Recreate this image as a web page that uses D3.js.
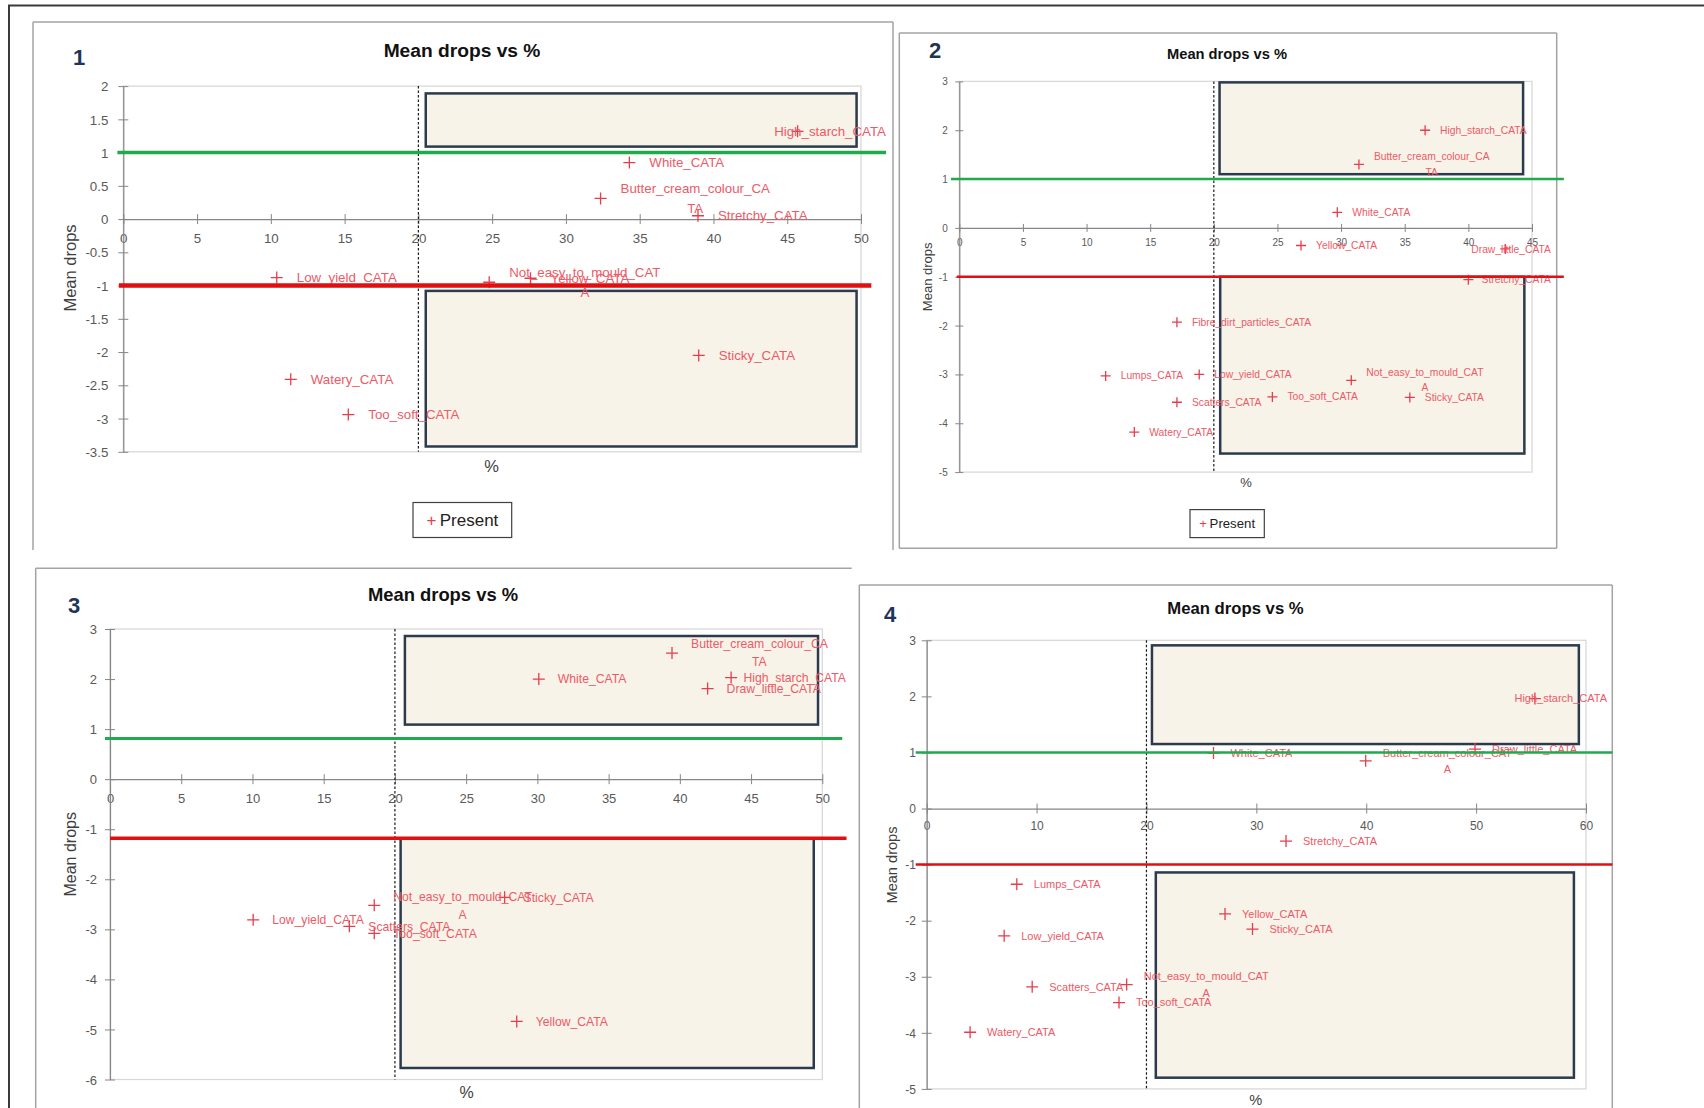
<!DOCTYPE html>
<html>
<head>
<meta charset="utf-8">
<script src="https://cdn.jsdelivr.net/npm/d3@7"></script>
<style>
  body { margin: 0; background: #ffffff; }
  svg { display: block; }
</style>
</head>
<body>
<svg id="chart" width="1704" height="1108"></svg>
<script>
// ---------------- DATA ----------------
// Panel 1
const p1Names = ["Low_yield_CATA","Watery_CATA","Too_soft_CATA","Not_easy_to_mould_CAT\nA","Yellow_CATA","White_CATA","Butter_cream_colour_CA\nTA","Stretchy_CATA","High_starch_CATA","Sticky_CATA"];
const p1Pct   = [10.4, 11.35, 15.25, 24.8, 27.6, 34.3, 32.35, 38.95, 45.7, 39.0];
const p1Mean  = [-0.88, -2.41, -2.94, -0.95, -0.89, 0.85, 0.31, 0.05, 1.32, -2.05];
const p1XTicks = [0,5,10,15,20,25,30,35,40,45,50];
const p1YTicks = [2,1.5,1,0.5,0,-0.5,-1,-1.5,-2,-2.5,-3,-3.5];
const p1Cutoff = 20;
const p1GreenY = 1,  p1GreenSpan = [-0.4, 51.7];
const p1RedY = -1,   p1RedSpan = [-0.3, 50.7];
const p1BoxUpper = [20.5, 49.7, 1.09, 1.89];
const p1BoxLower = [20.5, 49.7, -3.42, -1.08];

// Panel 2
const p2Names = ["Fibre_dirt_particles_CATA","Lumps_CATA","Low_yield_CATA","Scatters_CATA","Watery_CATA","Too_soft_CATA","Not_easy_to_mould_CAT\nA","Sticky_CATA","High_starch_CATA","Butter_cream_colour_CA\nTA","White_CATA","Yellow_CATA","Draw_little_CATA","Stretchy_CATA"];
const p2Pct   = [17.1, 11.5, 18.85, 17.1, 13.75, 24.6, 30.8, 35.4, 36.6, 31.4, 29.7, 26.85, 42.9, 40.0];
const p2Mean  = [-1.93, -3.03, -3.0, -3.57, -4.18, -3.46, -3.12, -3.47, 2.0, 1.30, 0.32, -0.36, -0.43, -1.06];
const p2XTicks = [0,5,10,15,20,25,30,35,40,45];
const p2YTicks = [3,2,1,0,-1,-2,-3,-4,-5];
const p2Cutoff = 20;
const p2GreenY = 1,  p2GreenSpan = [-0.65, 47.5];
const p2RedY = -1,   p2RedSpan = [-0.2, 47.5];
const p2BoxUpper = [20.45, 44.3, 1.10, 2.98];
const p2BoxLower = [20.5, 44.4, -4.62, -1.0];

// Panel 3
const p3Names = ["Low_yield_CATA","Scatters_CATA","Not_easy_to_mould_CAT\nA","Too_soft_CATA","Sticky_CATA","Yellow_CATA","White_CATA","Butter_cream_colour_CA\nTA","High_starch_CATA","Draw_little_CATA"];
const p3Pct   = [10.05, 16.8, 18.55, 18.55, 27.7, 28.55, 30.1, 39.45, 43.6, 41.95];
const p3Mean  = [-2.81, -2.94, -2.52, -3.08, -2.36, -4.84, 2.0, 2.52, 2.03, 1.81];
const p3XTicks = [0,5,10,15,20,25,30,35,40,45,50];
const p3YTicks = [3,2,1,0,-1,-2,-3,-4,-5,-6];
const p3Cutoff = 20;
const p3GreenY = 0.81,  p3GreenSpan = [-0.35, 51.4];
const p3RedY = -1.18,   p3RedSpan = [0, 51.7];
const p3BoxUpper = [20.7, 49.7, 1.09, 2.86];
const p3BoxLower = [20.4, 49.4, -5.77, -1.18];

// Panel 4
const p4Names = ["Lumps_CATA","Low_yield_CATA","Scatters_CATA","Not_easy_to_mould_CAT\nA","Too_soft_CATA","Watery_CATA","Yellow_CATA","Sticky_CATA","Stretchy_CATA","White_CATA","Butter_cream_colour_CAT\nA","Draw_little_CATA","High_starch_CATA"];
const p4Pct   = [8.2, 7.05, 9.6, 18.2, 17.5, 3.95, 27.15, 29.65, 32.7, 26.1, 39.95, 49.9, 55.35];
const p4Mean  = [-1.35, -2.27, -3.18, -3.14, -3.46, -3.99, -1.88, -2.15, -0.58, 0.99, 0.85, 1.06, 1.96];
const p4XTicks = [0,10,20,30,40,50,60];
const p4YTicks = [3,2,1,0,-1,-2,-3,-4,-5];
const p4Cutoff = 20;
const p4GreenY = 1,   p4GreenSpan = [-1.0, 62.4];
const p4RedY = -1,    p4RedSpan = [-1.0, 62.4];
const p4BoxUpper = [20.5, 59.35, 1.15, 2.91];
const p4BoxLower = [20.85, 58.9, -4.80, -1.14];

const chartTitle = "Mean drops vs %";
const yAxisTitle = "Mean drops";
const xAxisTitle = "%";
const legendLabel = "Present";

// ---------------- LAYOUT ----------------
const FONT = "'Liberation Sans', Arial, sans-serif";
const MARK = "#e63d4c", LABEL = "#ec5a67", GREEN = "#1faa4b", RED = "#e10f0f";

const L1 = {frame:{x0:33,y0:22,x1:893,y1:550,sides:"ltr"}, num:{x:79,y:57,t:"1"}, title:{x:462,y:50,fs:19.2},
  plot:{x0:123.3,x1:861,y0:86.1,y1:451.8}, tickFs:13.3, yTickGap:15, xTickGap:19.5, tick:5,
  yTitle:{x:70,y:268,fs:16.5}, xTitle:{x:491.7,y:466,fs:16.5},
  legend:{x:413,y:502.5,w:98.7,h:35,fs:17}, labelFs:13.3, labelDx:20, labelRight:886, mk:6, greenW:3.5, redW:4.5};
const L2 = {frame:{x0:899.3,y0:32.9,x1:1556.7,y1:548.2,sides:"ltrb"}, num:{x:935,y:50,t:"2"}, title:{x:1227,y:53.6,fs:14.7},
  plot:{x0:959.3,x1:1532,y0:81.4,y1:472.1}, tickFs:10, yTickGap:11.6, xTickGap:15, tick:4,
  yTitle:{x:927.7,y:276.8,fs:13}, xTitle:{x:1246,y:482,fs:13},
  legend:{x:1190,y:509.6,w:74.3,h:28,fs:13.2}, labelFs:10.3, labelDx:15, labelRight:1551, mk:5, greenW:2.5, redW:2.5};
const L3 = {frame:{x0:35.7,y0:568.3,x1:851.7,y1:1108,sides:"lt"}, num:{x:74,y:605,t:"3"}, title:{x:443,y:594.5,fs:18.4},
  plot:{x0:110,x1:822.3,y0:629,y1:1079.5}, tickFs:13, yTickGap:13, xTickGap:19, tick:5,
  yTitle:{x:70.7,y:854.3,fs:16}, xTitle:{x:466.5,y:1092,fs:16},
  legend:null, labelFs:12.2, labelDx:19, labelRight:846, mk:6, greenW:3, redW:3.5};
const L4 = {frame:{x0:859.3,y0:585,x1:1612.3,y1:1108,sides:"ltr"}, num:{x:890,y:614,t:"4"}, title:{x:1235.5,y:608.4,fs:16.7},
  plot:{x0:926.7,x1:1586,y0:640.3,y1:1088.9}, tickFs:12, yTickGap:10.7, xTickGap:17, tick:5,
  yTitle:{x:891.7,y:865,fs:14.6}, xTitle:{x:1255.7,y:1100,fs:14.6},
  legend:null, labelFs:11, labelDx:17, labelRight:1607, mk:6, greenW:2.5, redW:2.5};

const svg = d3.select("#chart");

// outer frame
svg.append("path").attr("d","M9,1108 V5.5 H1704").attr("fill","none").attr("stroke","#3a3a3a").attr("stroke-width",2);

function drawPanel(L, D) {
  const g = svg.append("g");
  const f = L.frame, segs = [];
  if (f.sides.includes("t")) segs.push([f.x0,f.y0,f.x1,f.y0]);
  if (f.sides.includes("l")) segs.push([f.x0,f.y0,f.x0,f.y1]);
  if (f.sides.includes("r")) segs.push([f.x1,f.y0,f.x1,f.y1]);
  if (f.sides.includes("b")) segs.push([f.x0,f.y1,f.x1,f.y1]);
  g.selectAll("line.frame").data(segs).join("line").attr("class","frame")
    .attr("x1",s=>s[0]).attr("y1",s=>s[1]).attr("x2",s=>s[2]).attr("y2",s=>s[3])
    .attr("stroke","#a3a3a3").attr("stroke-width",1.5);

  const x = d3.scaleLinear().domain([D.xTicks[0], D.xTicks[D.xTicks.length-1]]).range([L.plot.x0, L.plot.x1]);
  const y = d3.scaleLinear().domain([d3.min(D.yTicks), d3.max(D.yTicks)]).range([L.plot.y1, L.plot.y0]);

  // plot area border
  g.append("rect").attr("x",L.plot.x0).attr("y",L.plot.y0).attr("width",L.plot.x1-L.plot.x0).attr("height",L.plot.y1-L.plot.y0)
    .attr("fill","none").attr("stroke","#d9d9d9").attr("stroke-width",1.3);

  // highlight boxes
  g.selectAll("rect.box").data(D.boxes).join("rect").attr("class","box")
    .attr("x",b=>x(b[0])).attr("y",b=>y(b[3]))
    .attr("width",b=>x(b[1])-x(b[0])).attr("height",b=>y(b[2])-y(b[3]))
    .attr("fill","#f8f3e8").attr("stroke","#2b3a4c").attr("stroke-width",2.5);

  // axes
  const xa = g.append("g").attr("transform",`translate(0,${y(0)})`)
    .call(d3.axisBottom(x).tickValues(D.xTicks).tickFormat(d=>String(d)).tickSizeOuter(0));
  const ya = g.append("g").attr("transform",`translate(${x(0)},0)`)
    .call(d3.axisLeft(y).tickValues(D.yTicks).tickFormat(d=>String(d)).tickSizeOuter(0));
  [xa, ya].forEach(a => {
    a.attr("font-size",null).attr("font-family",null);
    a.select(".domain").attr("stroke","#868686").attr("stroke-width",1.2);
    a.selectAll(".tick line").attr("stroke","#868686").attr("stroke-width",1);
    a.selectAll(".tick text").attr("fill","#595959").style("font-family",FONT).style("font-size",L.tickFs+"px");
  });
  xa.selectAll(".tick line").attr("y1",-L.tick).attr("y2",L.tick);
  xa.selectAll(".tick text").attr("y",L.xTickGap).attr("dy","0.35em");
  ya.selectAll(".tick line").attr("x1",-L.tick).attr("x2",L.tick);
  ya.selectAll(".tick text").attr("x",-L.yTickGap).attr("dy","0.35em");

  // cutoff dotted line
  g.append("line").attr("x1",x(D.cutoff)).attr("x2",x(D.cutoff)).attr("y1",L.plot.y0).attr("y2",L.plot.y1)
    .attr("stroke","#1a1a1a").attr("stroke-width",1.2).attr("stroke-dasharray","2.5,2");

  // markers
  g.selectAll("path.mk").data(D.names).join("path").attr("class","mk")
    .attr("d",(n,i)=>{const cx=x(D.pct[i]), cy=y(D.mean[i]), m=L.mk;
      return `M${cx-m},${cy}H${cx+m}M${cx},${cy-m}V${cy+m}`;})
    .attr("stroke",MARK).attr("stroke-width",1.3).attr("fill","none");

  // labels
  D.names.forEach((name,i)=>{
    const cx = x(D.pct[i]), cy = y(D.mean[i]);
    const lines = name.split("\n");
    const lh = L.labelFs*1.47;
    const t = g.append("text").attr("fill",LABEL).attr("text-anchor","middle")
      .style("font-family",FONT).style("font-size",L.labelFs+"px");
    const spans = lines.map((s,k)=>t.append("tspan")
      .attr("y", cy + (k-(lines.length-1)/2)*lh).attr("dy","0.35em").text(s));
    const w = d3.max(spans, sp=>sp.node().getComputedTextLength());
    let left = cx + L.labelDx;
    if (left + w > L.labelRight) left = L.labelRight - w;
    spans.forEach(sp=>sp.attr("x", left + w/2));
  });

  // threshold lines
  g.append("line").attr("x1",x(D.greenSpan[0])).attr("x2",x(D.greenSpan[1])).attr("y1",y(D.greenY)).attr("y2",y(D.greenY))
    .attr("stroke",GREEN).attr("stroke-width",L.greenW);
  g.append("line").attr("x1",x(D.redSpan[0])).attr("x2",x(D.redSpan[1])).attr("y1",y(D.redY)).attr("y2",y(D.redY))
    .attr("stroke",RED).attr("stroke-width",L.redW);

  // title, number, axis titles
  g.append("text").attr("x",L.title.x).attr("y",L.title.y).attr("dy","0.35em").attr("text-anchor","middle")
    .style("font-family",FONT).style("font-weight","bold").style("font-size",L.title.fs+"px").attr("fill","#111").text(chartTitle);
  g.append("text").attr("x",L.num.x).attr("y",L.num.y).attr("dy","0.35em").attr("text-anchor","middle")
    .style("font-family",FONT).style("font-weight","bold").style("font-size","22px").attr("fill","#1f3556").text(L.num.t);
  g.append("text").attr("transform",`translate(${L.yTitle.x},${L.yTitle.y}) rotate(-90)`).attr("dy","0.35em").attr("text-anchor","middle")
    .style("font-family",FONT).style("font-size",L.yTitle.fs+"px").attr("fill","#404040").text(yAxisTitle);
  g.append("text").attr("x",L.xTitle.x).attr("y",L.xTitle.y).attr("dy","0.35em").attr("text-anchor","middle")
    .style("font-family",FONT).style("font-size",L.xTitle.fs+"px").attr("fill","#404040").text(xAxisTitle);

  // legend
  if (L.legend) {
    const lg = L.legend;
    g.append("rect").attr("x",lg.x).attr("y",lg.y).attr("width",lg.w).attr("height",lg.h)
      .attr("fill","#fff").attr("stroke","#404040").attr("stroke-width",1.2);
    const t = g.append("text").attr("x",lg.x+lg.w/2).attr("y",lg.y+lg.h/2).attr("dy","0.35em").attr("text-anchor","middle")
      .style("font-family",FONT).style("font-size",lg.fs+"px");
    t.append("tspan").attr("fill",MARK).text("+");
    t.append("tspan").attr("fill","#222").attr("dx",lg.fs*0.2).text(legendLabel);
  }
}

drawPanel(L1, {names:p1Names, pct:p1Pct, mean:p1Mean, xTicks:p1XTicks, yTicks:p1YTicks, cutoff:p1Cutoff,
  greenY:p1GreenY, greenSpan:p1GreenSpan, redY:p1RedY, redSpan:p1RedSpan, boxes:[p1BoxUpper,p1BoxLower]});
drawPanel(L2, {names:p2Names, pct:p2Pct, mean:p2Mean, xTicks:p2XTicks, yTicks:p2YTicks, cutoff:p2Cutoff,
  greenY:p2GreenY, greenSpan:p2GreenSpan, redY:p2RedY, redSpan:p2RedSpan, boxes:[p2BoxUpper,p2BoxLower]});
drawPanel(L3, {names:p3Names, pct:p3Pct, mean:p3Mean, xTicks:p3XTicks, yTicks:p3YTicks, cutoff:p3Cutoff,
  greenY:p3GreenY, greenSpan:p3GreenSpan, redY:p3RedY, redSpan:p3RedSpan, boxes:[p3BoxUpper,p3BoxLower]});
drawPanel(L4, {names:p4Names, pct:p4Pct, mean:p4Mean, xTicks:p4XTicks, yTicks:p4YTicks, cutoff:p4Cutoff,
  greenY:p4GreenY, greenSpan:p4GreenSpan, redY:p4RedY, redSpan:p4RedSpan, boxes:[p4BoxUpper,p4BoxLower]});
</script>
</body>
</html>
